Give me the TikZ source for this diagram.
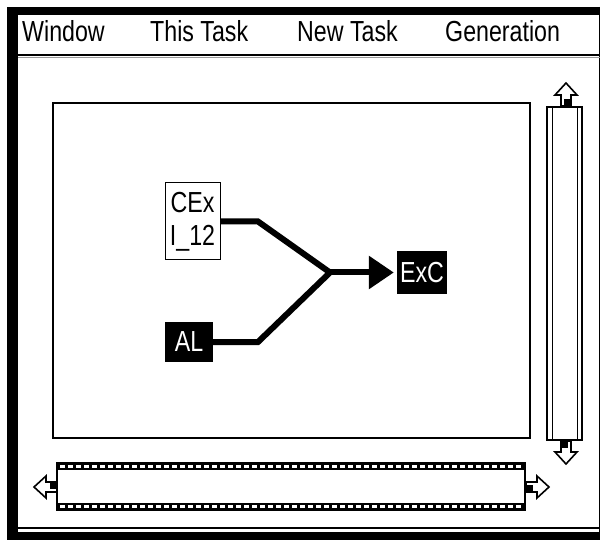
\documentclass[tikz,border=0pt]{standalone}
\usepackage{fontspec}
\setmainfont{Liberation Sans}[FakeStretch=0.8]
\usepackage{tikz}
\usetikzlibrary{arrows.meta}

\tikzset{
  scrollarrow/.pic={
    \draw[fill=white, line width=1.6pt, line join=miter]
      (0,0) -- (-5,0) -- (-5,-11) -- (-11,-11) -- (0,-23) -- (11,-11) -- (5,-11) -- (5,0) -- cycle;
    \fill (-2,-7) rectangle (5,0);
  }
}

\begin{document}
\begin{tikzpicture}[
  x=1pt, y=-1pt,
  menuitem/.style={anchor=base west, inner sep=0pt, font=\fontsize{29}{30}\selectfont},
  blockbox/.style={draw, line width=1pt, fill=white, align=center, inner sep=2pt,
    font=\fontsize{29}{33}\selectfont},
  blackbox/.style={fill=black, text=white, inner sep=0pt, font=\fontsize{29}{30}\selectfont},
  flow/.style={line width=6pt, line join=miter}
]
\useasboundingbox (0,0) rectangle (600,540);
\fill[white] (0,0) rectangle (600,540);

% window frame
\fill (7,7) rectangle (600,15);
\fill (7,7) rectangle (18,540);
\fill (7,532) rectangle (600,540);
\draw[line width=1pt] (599,7) -- (599,540);
\draw[line width=1.5pt] (18,528) -- (600,528);

% menu bar
\node[menuitem] (mwindow) at (22,42) {Window};
\node[menuitem] (mthis) at (150,42) {This Task};
\node[menuitem] (mnew) at (297,42) {New Task};
\node[menuitem] (mgen) at (445,42) {Generation};
\draw[line width=1.5pt] (18,55) -- (600,55);
\draw[black!40, line width=1pt] (18,57.5) -- (600,57.5);

% drawing area
\draw[line width=1.5pt] (53,103) rectangle (530,438);

% vertical scroll bar
\draw[line width=1.2pt] (547,107) rectangle (582,440);
\draw[line width=1pt] (552,107) -- (552,440);
\draw[line width=1pt] (577,107) -- (577,440);
\pic at (566,106) {scrollarrow};
\pic[rotate=180] at (566,441) {scrollarrow};

% horizontal scroll bar
\fill (57,463) rectangle (525,470);
\fill (57,503) rectangle (525,510);
\draw[white, line width=2.5pt, dash pattern=on 5pt off 3pt] (60,466.5) -- (522,466.5);
\draw[white, line width=2.5pt, dash pattern=on 5pt off 3pt] (60,506.5) -- (522,506.5);
\draw[line width=1.2pt] (57,463) rectangle (525,510);
\pic[rotate=90] at (57,487) {scrollarrow};
\pic[rotate=-90] at (526,487) {scrollarrow};

% task graph
\node[blockbox, minimum width=55pt, minimum height=77pt] (cex) at (192.5,221.5) {CEx\\I\_12};
\node[blackbox, minimum width=48pt, minimum height=40pt] (al) at (189,342) {AL};
\node[blackbox, minimum width=50pt, minimum height=43pt] (exc) at (422,272.5) {ExC};
\coordinate (cbend) at (258,221.5);
\coordinate (abend) at (258,342);
\coordinate (join) at (330,272.5);

\draw[flow] (cex.east) -- (cbend) -- (join);
\draw[flow] (al.east) -- (abend) -- (join);
\draw[flow, -{Triangle[length=25pt, width=32pt]}, shorten >=3pt] (join) -- (exc.west);
\end{tikzpicture}
\end{document}
